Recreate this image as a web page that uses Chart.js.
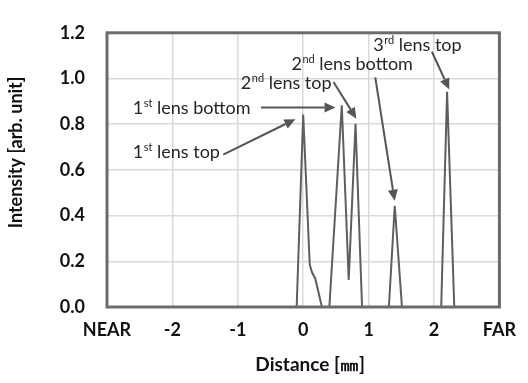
<!DOCTYPE html>
<html>
<head>
<meta charset="utf-8">
<script src="https://cdn.jsdelivr.net/npm/chart.js@4/dist/chart.umd.min.js"></script>
<style>
  html, body { margin: 0; padding: 0; background: #fff; }
  #wrap { width: 528px; height: 383px; }
</style>
</head>
<body>
<div id="wrap"><canvas id="c" width="528" height="383"></canvas></div>
<script>
// ---- data ----
const distance  = [-3, -0.10, 0.00, 0.10, 0.134, 0.185, 0.286, 0.40, 0.59, 0.696, 0.80, 0.90, 1.31, 1.40, 1.51, 2.11, 2.20, 2.31, 3];
const intensity = [0,  0,     0.842, 0.186, 0.152, 0.124, 0,    0,    0.883, 0.118, 0.802, 0,   0,    0.443, 0,   0,    0.942, 0,   0];
const xTickLabels = ['NEAR', '-2', '-1', '0', '1', '2', 'FAR'];
const yTickLabels = ['0.0', '0.2', '0.4', '0.6', '0.8', '1.0', '1.2'];

// annotation labels: [number, superscript, rest]
const annNum  = ['1', '1', '2', '2', '3'];
const annSup  = ['st', 'st', 'nd', 'nd', 'rd'];
const annRest = [' lens top', ' lens bottom', ' lens top', ' lens bottom', ' lens top'];
// text anchor (left, middle) in data units
const annTextX = [-2.606, -2.606, -0.954, -0.179, 1.071];
const annTextY = [0.681, 0.873, 0.981, 1.067, 1.150];
// arrow start / tip in data units
const arrFromX = [-1.223, -0.646, 0.464, 1.102, 1.968];
const arrFromY = [0.667, 0.873, 0.985, 1.005, 1.117];
const arrToX   = [-0.119, 0.494, 0.813, 1.398, 2.234];
const arrToY   = [0.822, 0.873, 0.824, 0.465, 0.952];

const points = distance.map((d, i) => ({ x: d, y: intensity[i] }));

const FONT = 'Lato, "Open Sans", sans-serif';

const framePlugin = {
  id: 'frame',
  afterDatasetsDraw(chart) {
    const { ctx, chartArea: a, scales } = chart;
    ctx.save();
    ctx.strokeStyle = '#6b6b6b';
    ctx.lineWidth = 3;
    ctx.strokeRect(a.left, a.top, a.right - a.left, a.bottom - a.top);
    ctx.restore();

    // annotations
    const xs = scales.x, ys = scales.y;
    ctx.save();
    const F = 18;
    for (let i = 0; i < annNum.length; i++) {
      const tx = xs.getPixelForValue(annTextX[i]);
      const ty = ys.getPixelForValue(annTextY[i]);
      const base = ty + F * 0.36;
      ctx.fillStyle = '#262626';
      ctx.textBaseline = 'alphabetic';
      ctx.textAlign = 'left';
      ctx.font = F + 'px ' + FONT;
      ctx.fillText(annNum[i], tx, base);
      let x = tx + ctx.measureText(annNum[i]).width;
      ctx.font = Math.round(F * 0.62) + 'px ' + FONT;
      ctx.fillText(annSup[i], x + 0.5, base - F * 0.38);
      x += ctx.measureText(annSup[i]).width + 0.5;
      ctx.font = F + 'px ' + FONT;
      ctx.fillText(annRest[i], x, base);

      // arrow
      const x0 = xs.getPixelForValue(arrFromX[i]), y0 = ys.getPixelForValue(arrFromY[i]);
      const x1 = xs.getPixelForValue(arrToX[i]),   y1 = ys.getPixelForValue(arrToY[i]);
      const ang = Math.atan2(y1 - y0, x1 - x0);
      const hl = 11, hw = 5;
      const bx = x1 - hl * Math.cos(ang), by = y1 - hl * Math.sin(ang);
      ctx.strokeStyle = '#555555';
      ctx.fillStyle = '#555555';
      ctx.lineWidth = 2;
      ctx.beginPath();
      ctx.moveTo(x0, y0);
      ctx.lineTo(bx, by);
      ctx.stroke();
      ctx.beginPath();
      ctx.moveTo(x1, y1);
      ctx.lineTo(bx + hw * Math.sin(ang), by - hw * Math.cos(ang));
      ctx.lineTo(bx - hw * Math.sin(ang), by + hw * Math.cos(ang));
      ctx.closePath();
      ctx.fill();
    }
    ctx.restore();
  }
};

new Chart(document.getElementById('c'), {
  type: 'line',
  data: {
    datasets: [{
      data: points,
      borderColor: '#5e5e5e',
      borderWidth: 2,
      pointRadius: 0,
      tension: 0,
      fill: false
    }]
  },
  options: {
    responsive: false,
    animation: false,
    events: [],
    layout: { padding: { top: 16, right: 26, left: 0, bottom: 0 } },
    plugins: { legend: { display: false }, tooltip: { enabled: false } },
    scales: {
      x: {
        type: 'linear',
        min: -3, max: 3,
        afterFit(s) { s.height = 76; },
        border: { display: false },
        grid: { color: '#d9d9d9', lineWidth: 1.5, drawTicks: false },
        ticks: {
          stepSize: 1,
          padding: 12,
          color: '#111',
          font: { family: FONT, size: 18, weight: 'bold' },
          maxRotation: 0,
          autoSkip: false,
          callback: (v, i) => xTickLabels[i]
        },
        title: {
          display: true,
          text: '   Distance [㎜]',
          color: '#111',
          font: { family: FONT, size: 19, weight: 'bold' },
          padding: { top: 0, bottom: 7 }
        }
      },
      y: {
        min: 0, max: 1.2,
        afterFit(s) { s.width = 107; },
        border: { display: false },
        grid: { color: '#d9d9d9', lineWidth: 1.5, drawTicks: false },
        ticks: {
          stepSize: 0.2,
          padding: 22,
          color: '#111',
          font: { family: FONT, size: 18, weight: 'bold' },
          callback: (v, i) => yTickLabels[i]
        },
        title: {
          display: true,
          text: '        Intensity [arb. unit]',
          color: '#111',
          font: { family: FONT, size: 18, weight: 'bold' },
          padding: { top: 5, bottom: 0 }
        }
      }
    }
  },
  plugins: [framePlugin]
});
</script>
</body>
</html>
